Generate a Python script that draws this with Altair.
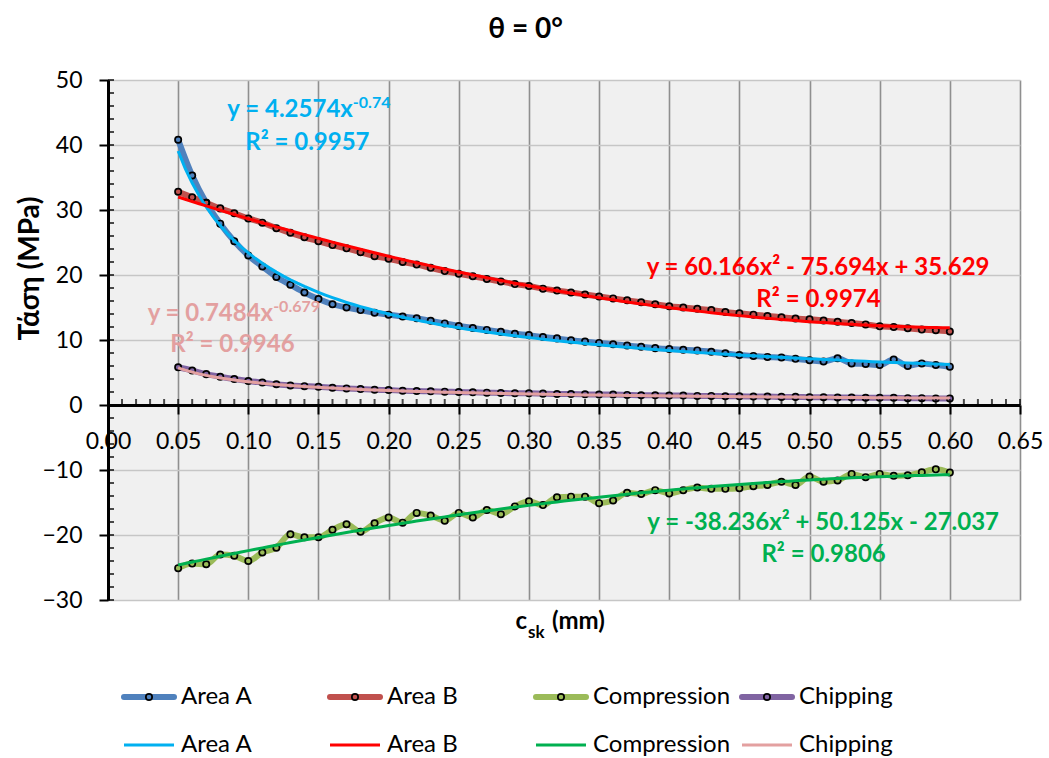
import altair as alt
import numpy as np
import pandas as pd

# ---------------------------------------------------------------- data
c_sk = [0.05, 0.06, 0.07, 0.08, 0.09, 0.10, 0.11, 0.12, 0.13, 0.14,
        0.15, 0.16, 0.17, 0.18, 0.19, 0.20, 0.21, 0.22, 0.23, 0.24,
        0.25, 0.26, 0.27, 0.28, 0.29, 0.30, 0.31, 0.32, 0.33, 0.34,
        0.35, 0.36, 0.37, 0.38, 0.39, 0.40, 0.41, 0.42, 0.43, 0.44,
        0.45, 0.46, 0.47, 0.48, 0.49, 0.50, 0.51, 0.52, 0.53, 0.54,
        0.55, 0.56, 0.57, 0.58, 0.59, 0.60]

area_a = [40.8, 35.3, 31.1, 27.9, 25.2, 23.0, 21.3, 19.7, 18.5, 17.3,
          16.3, 15.5, 15.0, 14.6, 14.2, 13.9, 13.6, 13.35, 12.95, 12.55,
          12.15, 11.85, 11.55, 11.25, 10.95, 10.75, 10.45, 10.25, 9.95, 9.75,
          9.55, 9.35, 9.15, 8.95, 8.75, 8.6, 8.5, 8.4, 8.2, 7.95,
          7.7, 7.55, 7.4, 7.3, 7.1, 6.9, 6.7, 7.2, 6.4, 6.3,
          6.15, 7.0, 6.0, 6.4, 6.15, 5.9]

area_b = [32.8, 31.95, 31.1, 30.25, 29.5, 28.7, 28.05, 27.2, 26.5, 25.8,
          25.2, 24.6, 24.1, 23.5, 22.9, 22.5, 22.0, 21.6, 21.1, 20.6,
          20.2, 19.8, 19.4, 19.0, 18.6, 18.3, 17.9, 17.6, 17.3, 17.0,
          16.7, 16.4, 16.1, 15.8, 15.5, 15.2, 15.0, 14.8, 14.6, 14.3,
          14.1, 13.9, 13.7, 13.5, 13.3, 13.2, 13.0, 12.8, 12.6, 12.4,
          12.1, 12.0, 11.8, 11.6, 11.5, 11.3]

compression = [-25.1, -24.4, -24.5, -23.0, -23.2, -24.0, -22.7, -21.95, -19.9, -20.35,
               -20.35, -19.2, -18.35, -19.5, -18.2, -17.3, -18.1, -16.6, -17.0, -17.8,
               -16.6, -17.3, -16.15, -16.8, -15.6, -14.8, -15.4, -14.2, -14.1, -14.1,
               -15.1, -14.7, -13.5, -13.7, -13.1, -13.6, -13.1, -12.7, -12.9, -12.9,
               -12.8, -12.5, -12.3, -11.8, -12.3, -11.0, -11.8, -11.6, -10.6, -11.1,
               -10.6, -10.9, -10.8, -10.35, -9.9, -10.4]

chipping = [5.8, 5.3, 4.75, 4.35, 4.0, 3.7, 3.45, 3.2, 3.0, 2.9,
            2.8, 2.65, 2.55, 2.45, 2.35, 2.3, 2.2, 2.15, 2.1, 2.05,
            2.0, 1.95, 1.9, 1.85, 1.8, 1.8, 1.75, 1.7, 1.7, 1.65,
            1.6, 1.6, 1.55, 1.5, 1.5, 1.45, 1.45, 1.4, 1.4, 1.35,
            1.35, 1.3, 1.3, 1.25, 1.25, 1.2, 1.2, 1.15, 1.15, 1.1,
            1.1, 1.1, 1.05, 1.05, 1.0, 1.0]

series_names = ["Area A", "Area B", "Compression", "Chipping"]
series_values = [area_a, area_b, compression, chipping]
data_colors = ["#4f81bd", "#c0504d", "#9bbb59", "#8064a2"]
trend_colors = ["#00b0f0", "#ff0000", "#00b050", "#e3a0a0"]

# fitted trendlines: power y = a*x^b, quadratic y = c2*x^2 + c1*x + c0
power_fits = {"Area A": (4.2574, -0.74), "Chipping": (0.7484, -0.679)}
quad_fits = {"Area B": (60.166, -75.694, 35.629),
             "Compression": (-38.236, 50.125, -27.037)}
r_squared = {"Area A": 0.9957, "Area B": 0.9974,
             "Compression": 0.9806, "Chipping": 0.9946}

x_major = [0.00, 0.05, 0.10, 0.15, 0.20, 0.25, 0.30, 0.35, 0.40, 0.45,
           0.50, 0.55, 0.60, 0.65]
y_major = [-30, -20, -10, 0, 10, 20, 30, 40, 50]

# ---------------------------------------------------------------- layout
W, H = 912, 520
X_DOM, Y_DOM = [0, 0.65], [-30, 50]
FONT = "Lato, 'Noto Sans', sans-serif"
zero_offset = -(H - H * Y_DOM[1] / (Y_DOM[1] - Y_DOM[0]))   # x-axis drawn at y = 0

X_SCALE = alt.Scale(domain=X_DOM, nice=False, zero=False)
Y_SCALE = alt.Scale(domain=Y_DOM, nice=False, zero=False)

rows = []
for name, vals, col in zip(series_names, series_values, data_colors):
    for x, v in zip(c_sk, vals):
        rows.append({"series": name, "c_sk": x, "stress": v, "col": col})
df = pd.DataFrame(rows)

xs = np.linspace(c_sk[0], c_sk[-1], 111)
fit_rows = []
for name, col in zip(series_names, trend_colors):
    if name in power_fits:
        a, b = power_fits[name]
        ys = a * xs ** b
    else:
        c2, c1, c0 = quad_fits[name]
        ys = c2 * xs ** 2 + c1 * xs + c0
    for x, y in zip(xs, ys):
        fit_rows.append({"series": name, "c_sk": float(x), "stress": float(y), "col": col})
fit_df = pd.DataFrame(fit_rows)


def signed(v):
    return ("- " if v < 0 else "+ ") + f"{abs(v)}"


# equation label anchors (data units)
label_pos = {
    "Area A": {"eq": (0.1745, 44.3), "sup": (0.1745, 45.7), "r2": (0.1421, 39.2)},
    "Chipping": {"eq": (0.1177, 12.95), "sup": (0.1177, 14.3), "r2": (0.0887, 8.15)},
    "Area B": {"eq": (0.5061, 20.0), "r2": (0.5064, 15.1)},
    "Compression": {"eq": (0.5097, -19.25), "r2": (0.5100, -24.1)},
}
center_rows, base_rows, sup_rows = [], [], []
for name, col in zip(series_names, trend_colors):
    pos = label_pos[name]
    if name in power_fits:
        a, b = power_fits[name]
        base_rows.append({"t": f"y = {a}x", "x": pos["eq"][0], "y": pos["eq"][1], "col": col})
        sup_rows.append({"t": f"{b}", "x": pos["sup"][0], "y": pos["sup"][1], "col": col})
    else:
        c2, c1, c0 = quad_fits[name]
        center_rows.append({"t": f"y = {c2}x² {signed(c1)}x {signed(c0)}",
                            "x": pos["eq"][0], "y": pos["eq"][1], "col": col})
    center_rows.append({"t": f"R² = {r_squared[name]}", "x": pos["r2"][0],
                        "y": pos["r2"][1], "col": col})

# ---------------------------------------------------------------- axes
x_axis = alt.Axis(values=x_major, format=".2f", offset=zero_offset, title=None,
                  domainColor="black", domainWidth=3, tickColor="black", tickWidth=2,
                  tickSize=9, labelFont=FONT, labelFontSize=23, labelColor="black",
                  labelPadding=16, labelFlush=False, labelOverlap=False,
                  grid=True, gridColor="#8f8f8f", gridWidth=1.6)
y_axis = alt.Axis(values=y_major, title="Τάση (MPa)", titleFont=FONT, titleFontSize=28,
                  titleFontWeight="bold", titleColor="black", titleX=-78, titleY=188,
                  titleAngle=270, titleAlign="center", titleBaseline="middle",
                  domainColor="black", domainWidth=3, tickColor="black", tickWidth=2,
                  tickSize=9, labelFont=FONT, labelFontSize=23, labelColor="black",
                  labelPadding=17, grid=True, gridColor="#c6c6c6", gridWidth=1.6)


def X(field):
    return alt.X(field, scale=X_SCALE, axis=x_axis)


def Y(field):
    return alt.Y(field, scale=Y_SCALE, axis=y_axis)


# ---------------------------------------------------------------- layers
data_lines = alt.Chart(df).mark_line(strokeWidth=6, interpolate="monotone",
                                     strokeCap="round").encode(
    x=X("c_sk:Q"), y=Y("stress:Q"),
    color=alt.Color("col:N", scale=None), detail="series:N")

markers = alt.Chart(df).mark_point(shape="circle", filled=False, color="black",
                                   strokeWidth=1.7, size=40, opacity=1).encode(
    x=X("c_sk:Q"), y=Y("stress:Q"))

trends = alt.Chart(fit_df).mark_line(strokeWidth=3).encode(
    x=X("c_sk:Q"), y=Y("stress:Q"),
    color=alt.Color("col:N", scale=None), detail="series:N")

# minor ticks pointing into the plot
x_minor = [round(v, 2) for v in np.arange(0, 0.6501, 0.01)]
y_minor = list(range(-30, 51, 2))
x_ticks = alt.Chart(pd.DataFrame({"v": x_minor})).mark_tick(
    orient="vertical", size=6, thickness=2, color="black", yOffset=-3).encode(
    x=X("v:Q"), y=alt.YDatum(0, scale=Y_SCALE, axis=y_axis))
y_ticks = alt.Chart(pd.DataFrame({"v": y_minor})).mark_tick(
    orient="horizontal", size=6, thickness=2, color="black", xOffset=3).encode(
    y=Y("v:Q"), x=alt.XDatum(0, scale=X_SCALE, axis=x_axis))


def text_layer(rows, align, size):
    return alt.Chart(pd.DataFrame(rows)).mark_text(
        align=align, baseline="alphabetic", font=FONT, fontWeight="bold",
        fontSize=size).encode(
        x=X("x:Q"), y=Y("y:Q"),
        text="t:N", color=alt.Color("col:N", scale=None))


eq_center = text_layer(center_rows, "center", 24)
eq_base = text_layer(base_rows, "right", 24)
eq_sup = text_layer(sup_rows, "left", 16)


def pixel_text(txt, x, y, size, align, weight="bold", baseline="alphabetic"):
    return alt.Chart(pd.DataFrame({"t": [txt]})).mark_text(
        align=align, baseline=baseline, font=FONT, fontWeight=weight,
        fontSize=size, color="black").encode(
        text="t:N", x=alt.value(x), y=alt.value(y))


title = pixel_text("θ = 0°", 417.5, -42.5, 28, "center")
xt_c = pixel_text("c", 419, 549, 24, "right")
xt_sub = pixel_text("sk", 420, 558, 17, "left")
xt_unit = pixel_text("(mm)", 444, 549, 24, "left")

# legend: two rows (data series, trendlines), four equal-width columns
LEG_X0, LEG_PITCH, SYM_W, LEG_GAP = 14, 206, 54, 5
LEG_ROWS = [617, 665]
legend_layers = []
for row, (colors, width) in enumerate([(data_colors, 6), (trend_colors, 3)]):
    ly = LEG_ROWS[row]
    for i, (name, col) in enumerate(zip(series_names, colors)):
        x0 = LEG_X0 + i * LEG_PITCH
        one = pd.DataFrame({"t": [name]})
        legend_layers.append(alt.Chart(one).mark_rule(
            color=col, strokeWidth=width, strokeCap="round" if row == 0 else "butt").encode(
            x=alt.value(x0 + 2), x2=alt.value(x0 + SYM_W - 2), y=alt.value(ly)))
        if row == 0:
            legend_layers.append(alt.Chart(one).mark_point(
                shape="circle", filled=False, color="black", strokeWidth=1.7,
                size=40, opacity=1).encode(x=alt.value(x0 + SYM_W / 2), y=alt.value(ly)))
        legend_layers.append(pixel_text(name, x0 + SYM_W + LEG_GAP, ly, 24, "left",
                                        weight="normal", baseline="middle"))

chart = alt.layer(
    data_lines, markers, trends, x_ticks, y_ticks,
    eq_center, eq_base, eq_sup, title, xt_c, xt_sub, xt_unit, *legend_layers,
).properties(
    width=W, height=H,
    autosize=alt.AutoSizeParams(type="none"),
    padding={"left": 108, "top": 80, "right": 29, "bottom": 158},
    background="white",
).configure_view(fill="#f0f0f0", stroke=None)

chart.save("out.html", embed_options={"renderer": "svg", "actions": False})
